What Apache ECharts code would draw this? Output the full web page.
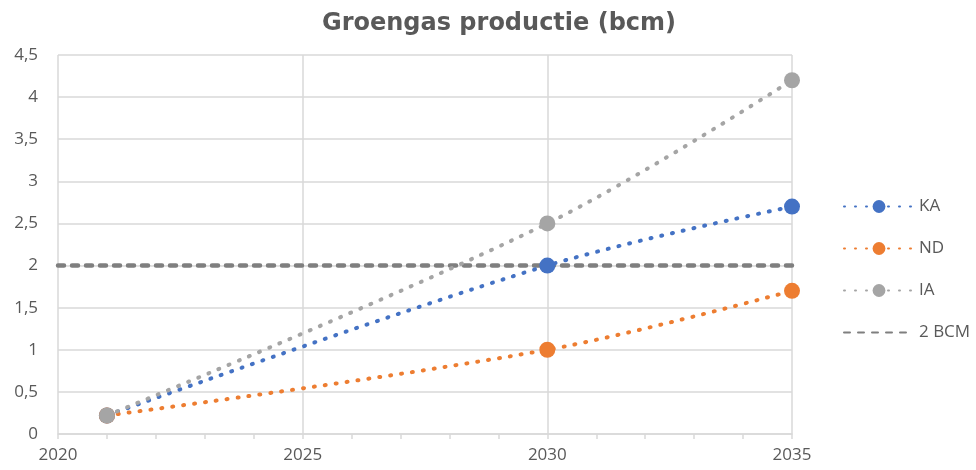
<!DOCTYPE html>
<html>
<head>
<meta charset="utf-8">
<script src="https://cdn.jsdelivr.net/npm/echarts@6/dist/echarts.min.js"></script>
<style>
  html, body { margin: 0; padding: 0; background: #fff; }
  #chart { width: 976px; height: 470px; }
</style>
</head>
<body>
<div id="chart"></div>
<script>
// data
const years = [2021, 2030, 2035];
const ka = [0.22, 2.0, 2.7];
const nd = [0.22, 1.0, 1.7];
const ia = [0.22, 2.5, 4.2];
const bcmYears = [2020, 2035];
const bcm = [2, 2];

const pairs = (xs, ys) => xs.map((x, i) => [x, ys[i]]);
const txt = '#595959';
const grid = '#d9d9d9';

function dotted(name, color, vals) {
  return {
    name: name,
    type: 'line',
    data: pairs(years, vals),
    smooth: 0.35,
    symbol: 'circle',
    symbolSize: 16,
    itemStyle: { color: color },
    lineStyle: { color: color, width: 4, type: [1, 10], cap: 'round' },
    z: 3
  };
}

const myChart = echarts.init(document.getElementById('chart'));
myChart.setOption({
  animation: false,
  title: {
    text: 'Groengas productie (bcm)',
    left: 494,
    textAlign: 'center',
    top: 7,
    textStyle: { fontFamily: 'DejaVu Sans', fontWeight: 'bold', fontSize: 24, color: txt }
  },
  legend: {
    orient: 'vertical',
    left: 838,
    top: 193,
    itemWidth: 70,
    itemHeight: 16,
    itemGap: 25,
    textStyle: { fontFamily: 'Open Sans', fontSize: 17, color: txt },
    data: ['KA', 'ND', 'IA', { name: '2 BCM', itemStyle: { opacity: 0 } }]
  },
  grid: { left: 58, right: 184, top: 55, bottom: 36 },
  xAxis: {
    type: 'value',
    min: 2020,
    max: 2035,
    interval: 5,
    axisLine: { show: true, lineStyle: { color: grid, width: 1.5 } },
    axisTick: { show: true, length: 5, lineStyle: { color: grid, width: 1.5 } },
    minorTick: { show: true, splitNumber: 5, length: 5, lineStyle: { color: grid, width: 1.5 } },
    splitLine: { show: true, lineStyle: { color: grid, width: 1.5 } },
    axisLabel: { color: txt, fontFamily: 'Open Sans', fontSize: 17, margin: 13, formatter: v => String(v) }
  },
  yAxis: {
    type: 'value',
    min: 0,
    max: 4.5,
    interval: 0.5,
    axisLine: { show: false },
    axisTick: { show: false },
    splitLine: { lineStyle: { color: grid, width: 1.5 } },
    axisLabel: {
      color: txt, fontFamily: 'Open Sans', fontSize: 17, margin: 20,
      formatter: v => String(v).replace('.', ',')
    }
  },
  series: [
    dotted('KA', '#4472C4', ka),
    dotted('ND', '#ED7D31', nd),
    dotted('IA', '#A5A5A5', ia),
    {
      name: '2 BCM',
      type: 'line',
      data: pairs(bcmYears, bcm),
      symbol: 'none',
      itemStyle: { color: '#7f7f7f' },
      lineStyle: { color: '#7f7f7f', width: 4.5, type: [6, 8], cap: 'round' },
      z: 2
    }
  ]
});
</script>
</body>
</html>
